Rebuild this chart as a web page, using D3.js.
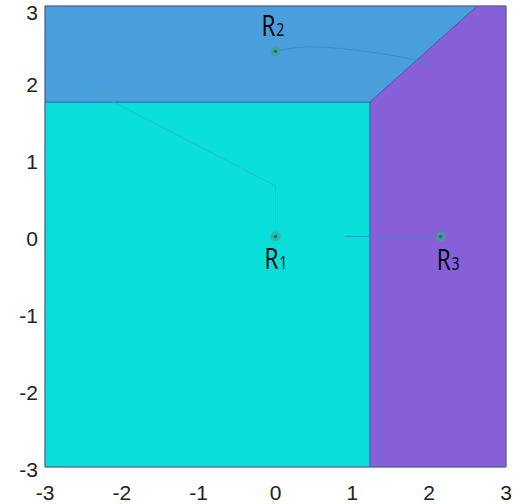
<!DOCTYPE html>
<html>
<head>
<meta charset="utf-8">
<script src="https://cdn.jsdelivr.net/npm/d3@7"></script>
<style>
  html, body { margin: 0; padding: 0; background: #fff; }
  svg { display: block; }
</style>
</head>
<body>
<svg id="chart" width="523" height="504"></svg>
<script>
// Axis ticks
const xTicks = [-3, -2, -1, 0, 1, 2, 3];
const yTicks = [-3, -2, -1, 0, 1, 2, 3];

// Region polygons (data coordinates)
const regionNames = ["R1", "R2", "R3"];
const regionColors = ["#09dfda", "#4a9edc", "#875fd8"];
const region1 = [[-3, -3], [1.23, -3], [1.23, 1.75], [-3, 1.75]];
const region2 = [[-3, 1.75], [1.23, 1.75], [2.625, 3], [-3, 3]];
const region3 = [[1.23, -3], [3, -3], [3, 3], [2.625, 3], [1.23, 1.75]];

// Equilibrium points
const pointX = [0, 0, 2.15];
const pointY = [0, 2.41, 0];
const pointSub = ["1", "2", "3"];

// Trajectories
const path1 = [[-2.61, 2.05], [-2.11, 1.75], [0.0, 0.66], [0.0, 0.0]];
const path2 = [[0.0, 2.41], [0.27, 2.47], [0.7, 2.47], [1.35, 2.39], [1.83, 2.30], [2.03, 2.23]];
const path3 = [[0.9, 0], [2.15, 0]];

const svg = d3.select("#chart");
const mLeft = 45, mRight = 506, mTop = 6, mBottom = 467;

const x = d3.scaleLinear().domain([-3, 3]).range([mLeft, mRight]);
const y = d3.scaleLinear().domain([-3, 3]).range([mBottom, mTop]);

const poly = d3.line().x(d => x(d[0])).y(d => y(d[1]));

// Regions
[region1, region2, region3].forEach((r, i) => {
  svg.append("path")
    .attr("d", poly(r) + "Z")
    .attr("fill", regionColors[i])
    .attr("stroke", "#3d4f9a")
    .attr("stroke-width", 0.8)
    .attr("stroke-opacity", 0.8);
});

// Frame
svg.append("rect")
  .attr("x", mLeft).attr("y", mTop)
  .attr("width", mRight - mLeft).attr("height", mBottom - mTop)
  .attr("fill", "none")
  .attr("stroke", "#5a6a8a")
  .attr("stroke-width", 1);

// Trajectories
svg.append("path").attr("d", poly(path1))
  .attr("fill", "none").attr("stroke", "#2cb7c6").attr("stroke-width", 1).attr("stroke-opacity", 0.8);
svg.append("path").attr("d", d3.line().x(d => x(d[0])).y(d => y(d[1])).curve(d3.curveBasis)(path2))
  .attr("fill", "none").attr("stroke", "#3a8ccc").attr("stroke-width", 1).attr("stroke-opacity", 0.9);
svg.append("path").attr("d", poly(path3))
  .attr("fill", "none").attr("stroke", "#3f86cc").attr("stroke-width", 1).attr("stroke-opacity", 0.9);

// Points
pointX.forEach((px, i) => {
  svg.append("circle")
    .attr("cx", x(px)).attr("cy", y(pointY[i])).attr("r", 5)
    .attr("fill", "#3aa889").attr("fill-opacity", 0.7);
  svg.append("circle")
    .attr("cx", x(px)).attr("cy", y(pointY[i])).attr("r", 1.8)
    .attr("fill", "#2a6f78");
});

// Point labels (condensed R with a subscript digit on the baseline)
const labelDx = [-11, -14, -4];
const labelDy = [32, -15, 33];
pointX.forEach((px, i) => {
  const g = svg.append("g")
    .attr("transform", `translate(${x(px) + labelDx[i]},${y(pointY[i]) + labelDy[i]}) scale(0.78,1)`);
  const t = g.append("text")
    .attr("x", 0).attr("y", 0)
    .attr("font-family", "'Open Sans', sans-serif")
    .attr("font-size", 29)
    .attr("font-weight", 500)
    .attr("fill", "#000");
  t.append("tspan").text("R");
  t.append("tspan").attr("font-size", 18).attr("dx", 1).text(pointSub[i]);
});

// Tick labels
svg.append("g").selectAll("text").data(xTicks).join("text")
  .attr("x", d => x(d)).attr("y", 500)
  .attr("text-anchor", "middle")
  .attr("font-family", "'Liberation Sans', Arial, sans-serif")
  .attr("font-size", 21).attr("fill", "#222")
  .text(d => d);

svg.append("g").selectAll("text").data(yTicks).join("text")
  .attr("x", 38).attr("y", d => Math.max(y(d) + 9.5, 20))
  .attr("text-anchor", "end")
  .attr("font-family", "'Liberation Sans', Arial, sans-serif")
  .attr("font-size", 21).attr("fill", "#222")
  .text(d => d);
</script>
</body>
</html>
